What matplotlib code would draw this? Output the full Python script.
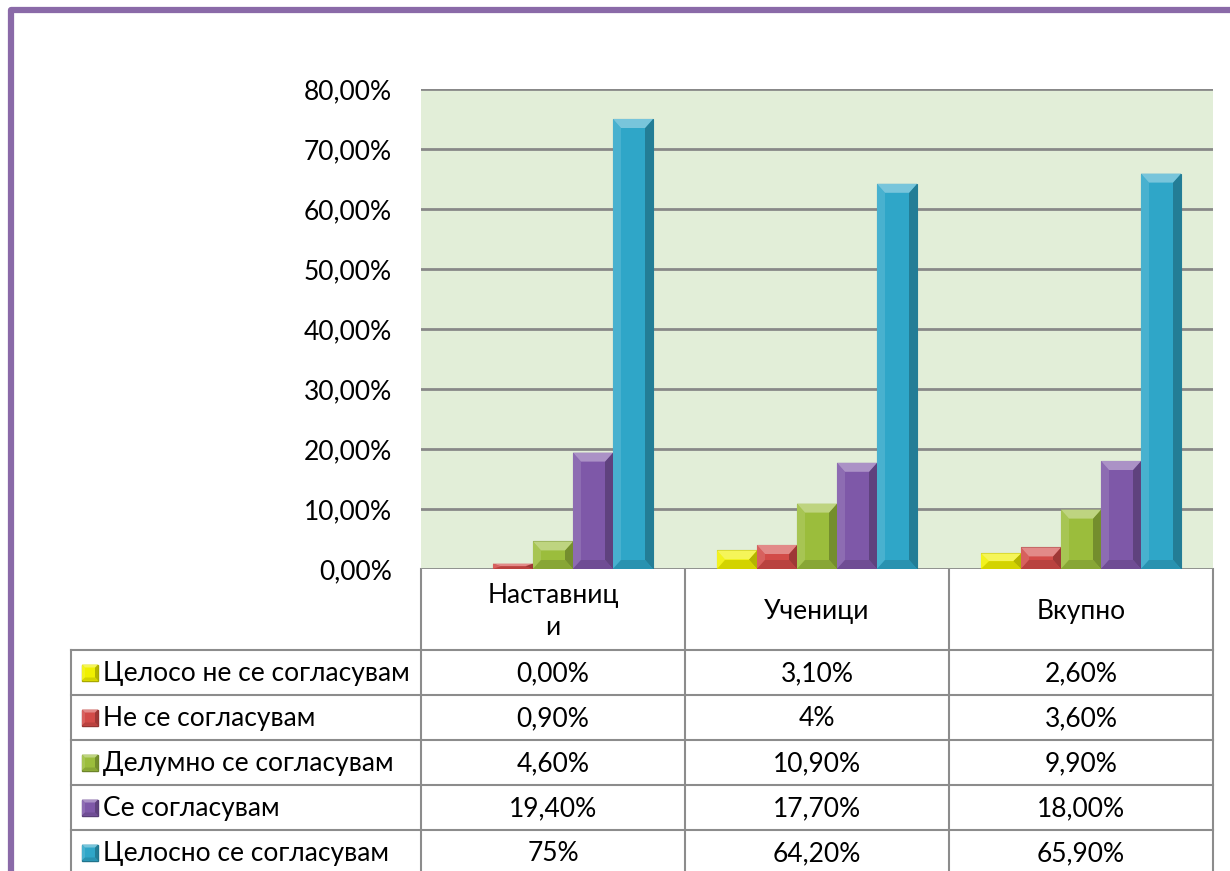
import matplotlib.pyplot as plt
from matplotlib.patches import Polygon, Rectangle
from matplotlib.ticker import FuncFormatter
import matplotlib.colors as mcolors
import math

plt.rcParams['font.family'] = ['Lato', 'DejaVu Sans']

categories = ["Наставниц\nи", "Ученици", "Вкупно"]
series = ["Целосо не се согласувам", "Не се согласувам", "Делумно се согласувам",
          "Се согласувам", "Целосно се согласувам"]
values = [
    [0.0, 3.1, 2.6],
    [0.9, 4.0, 3.6],
    [4.6, 10.9, 9.9],
    [19.4, 17.7, 18.0],
    [75.0, 64.2, 65.9],
]
table_text = [
    ["0,00%", "3,10%", "2,60%"],
    ["0,90%", "4%", "3,60%"],
    ["4,60%", "10,90%", "9,90%"],
    ["19,40%", "17,70%", "18,00%"],
    ["75%", "64,20%", "65,90%"],
]
colors = ["#F0F000", "#D24B48", "#9BBD3C", "#7E58A8", "#2FA6C8"]

W, H = 1230, 871
fs = 19
fig = plt.figure(figsize=(W / 100, H / 100), dpi=100)

# overlay axes in pixel coordinates for border and table
ov = fig.add_axes([0, 0, 1, 1])
ov.set_xlim(0, W)
ov.set_ylim(H, 0)
ov.axis('off')

# purple frame
ov.plot([11, 11, W], [H, 10.5, 10.5], color="#8A6AA8", lw=4.5, solid_capstyle='butt')

# bar axes
px0, px1, py0, py1 = 421, 1213, 89, 569
ax = fig.add_axes([px0 / W, 1 - py1 / H, (px1 - px0) / W, (py1 - py0) / H])
ax.set_facecolor("#E2EED8")
ax.set_xlim(-0.5, 2.5)
ax.set_ylim(0, 80)
ax.set_yticks(range(0, 81, 10))
ax.yaxis.set_major_formatter(FuncFormatter(lambda v, p: f"{v:.2f}".replace(".", ",") + "%"))
ax.tick_params(axis='y', length=0, labelsize=fs, pad=21)
ax.set_xticks([])
for s in ax.spines.values():
    s.set_visible(False)
ax.grid(axis='y', color="#888888", lw=2)
ax.set_axisbelow(True)

bw = 40 / 264
bev_x = 8 / 264
bev_y = 9 * 80 / 480


def shade(c, f):
    r, g, b = mcolors.to_rgb(c)
    if f > 0:
        return (r + (1 - r) * f, g + (1 - g) * f, b + (1 - b) * f)
    return (r * (1 + f), g * (1 + f), b * (1 + f))


def bevel(axis, x0, y0, w, h, col, bx, by):
    # h may be negative when the axis is flipped; y0 is the base, y0+h the top
    x1, y1 = x0 + w, y0 + h
    by = math.copysign(min(abs(by), abs(h) / 2), h)
    bx = min(bx, w / 2)
    axis.add_patch(Polygon([(x0, y0), (x0 + bx, y0 + by), (x0 + bx, y1 - by), (x0, y1)],
                           closed=True, color=shade(col, 0.12), lw=0, zorder=4))
    axis.add_patch(Polygon([(x1, y0), (x1 - bx, y0 + by), (x1 - bx, y1 - by), (x1, y1)],
                           closed=True, color=shade(col, -0.25), lw=0, zorder=4))
    axis.add_patch(Polygon([(x0, y1), (x1, y1), (x1 - bx, y1 - by), (x0 + bx, y1 - by)],
                           closed=True, color=shade(col, 0.35), lw=0, zorder=4))
    axis.add_patch(Polygon([(x0, y0), (x1, y0), (x1 - bx, y0 + by), (x0 + bx, y0 + by)],
                           closed=True, color=shade(col, -0.12), lw=0, zorder=4))


for i, (vals, col) in enumerate(zip(values, colors)):
    for j, v in enumerate(vals):
        if v <= 0:
            continue
        x0 = j - 2.5 * bw + i * bw
        ax.bar(x0, v, width=bw, align='edge', color=col, edgecolor=shade(col, -0.25), lw=0.8, zorder=3)
        bevel(ax, x0, 0, bw, v, col, bev_x, bev_y)

# data table
tl, tr = 71, 1213
colx = [421, 685, 949, 1213]
hdr_bottom = 650
row_h = 45
lc = "#8C8C8C"
for x in colx:
    ov.plot([x, x], [py1, H], color=lc, lw=1.5)
ov.plot([tl, tl], [hdr_bottom, H], color=lc, lw=1.5)
ov.plot([tl, tr], [hdr_bottom, hdr_bottom], color=lc, lw=1.5)
for k in range(1, len(series)):
    y = hdr_bottom + k * row_h
    ov.plot([tl, tr], [y, y], color=lc, lw=1.5)

for j, cat in enumerate(categories):
    ov.text((colx[j] + colx[j + 1]) / 2, (py1 + hdr_bottom) / 2 + 2, cat, ha='center', va='center',
            fontsize=fs, linespacing=1.35)

for i, name in enumerate(series):
    yc = hdr_bottom + i * row_h + row_h / 2
    col = colors[i]
    ov.add_patch(Rectangle((82, yc - 8), 16, 16, facecolor=col, edgecolor=shade(col, -0.3), lw=1, zorder=3))
    bevel(ov, 82, yc + 8, 16, -16, col, 3, 3)
    ov.text(103, yc + 1, name, ha='left', va='center', fontsize=fs)
    for j in range(3):
        ov.text((colx[j] + colx[j + 1]) / 2, yc + 1, table_text[i][j], ha='center', va='center', fontsize=fs)

fig.savefig("out.png", dpi=100)
